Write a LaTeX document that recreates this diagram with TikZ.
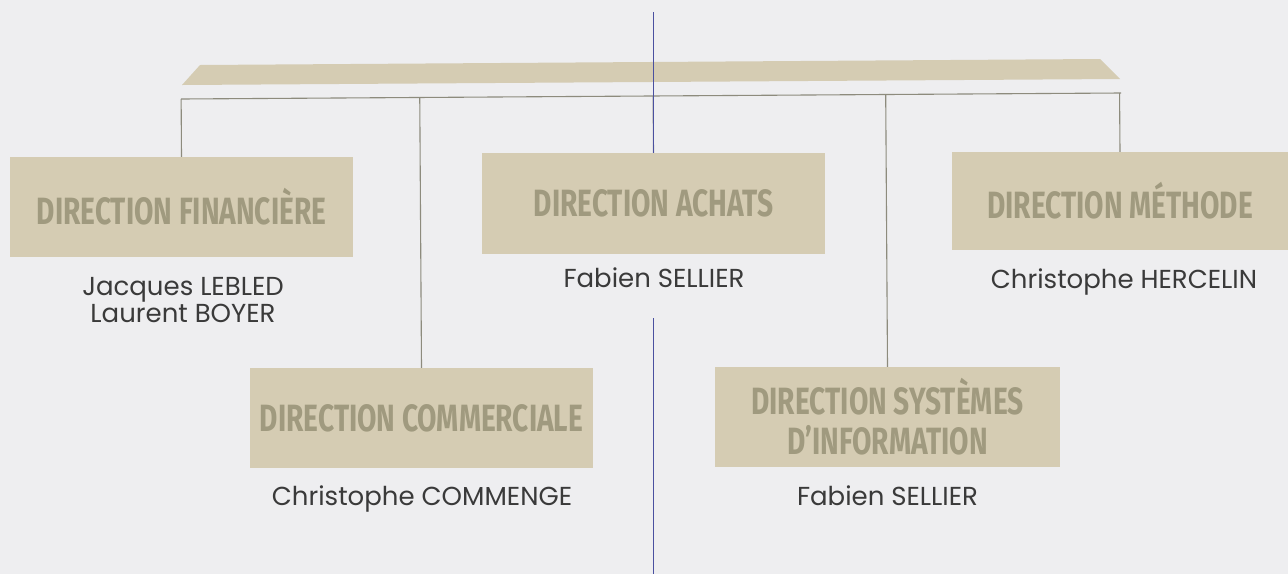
\documentclass[tikz,border=0pt]{standalone}
\usepackage{fontspec}
\usetikzlibrary{calc}
\setmainfont{Poppins}
\newfontfamily\headfont[FakeStretch=0.74]{Fira Sans}
\definecolor{bgc}{HTML}{EEEEF0}
\definecolor{boxc}{HTML}{D5CCB3}
\definecolor{headc}{HTML}{A09A7F}
\definecolor{linec}{HTML}{8D8B7D}
\definecolor{bluec}{HTML}{4A50A0}
\definecolor{namec}{HTML}{3A3A3A}
\tikzset{
  dirbox/.style={fill=boxc, draw=none, inner sep=0pt, align=center,
    font=\headfont\bfseries\fontsize{38}{40}\selectfont, text=headc},
  person/.style={font=\fontsize{26}{25}\selectfont, text=namec, align=center, anchor=base},
  conn/.style={draw=linec, line width=1.1pt},
  fold/.style={draw=bluec, line width=1.2pt}
}
\begin{document}
\begin{tikzpicture}[x=1pt,y=-1pt]
\fill[bgc] (0,0) rectangle (1288,574);
\useasboundingbox (0,0) rectangle (1288,574);
% banner
\fill[boxc] (200,65) -- (1100,59) -- (1120,79) -- (182,85) -- cycle;
% boxes
\node[dirbox, minimum width=343pt, minimum height=100pt] (fin) at (181.5,207) {DIRECTION FINANCIÈRE};
\node[dirbox, minimum width=343pt, minimum height=101pt] (ach) at (653.5,203.5) {DIRECTION ACHATS};
\node[dirbox, minimum width=336pt, minimum height=98pt] (met) at (1120,201) {DIRECTION MÉTHODE};
\node[dirbox, minimum width=343pt, minimum height=100pt] (com) at (421.5,418) {DIRECTION COMMERCIALE};
\node[dirbox, minimum width=345pt, minimum height=100pt] (sys) at (887.5,417) {DIRECTION SYSTÈMES\\D’INFORMATION};
% names
\node[person] (nfin) at (183,322) {Jacques LEBLED\\Laurent BOYER};
\node[person] (nach) at (654,287) {Fabien SELLIER};
\node[person] (nmet) at (1124,288) {Christophe HERCELIN};
\node[person] (ncom) at (422,505) {Christophe COMMENGE};
\node[person] (nsys) at (887.5,505) {Fabien SELLIER};
% connector bar
\coordinate (barL) at (181,99);
\coordinate (barR) at (1121,93);
\draw[conn] (barL) -- (barR);
\foreach \b in {fin,ach,met,com,sys}
  \draw[conn] (\b.north) -- ($(barL)!(\b.north)!(barR)$);
% fold line
\coordinate (foldtop) at (653.5,12);
\coordinate (foldmid) at (653.5,318);
\coordinate (foldbot) at (653.5,574);
\draw[fold] (foldtop) -- (ach.north);
\draw[fold] (foldmid) -- (foldbot);
\end{tikzpicture}
\end{document}
